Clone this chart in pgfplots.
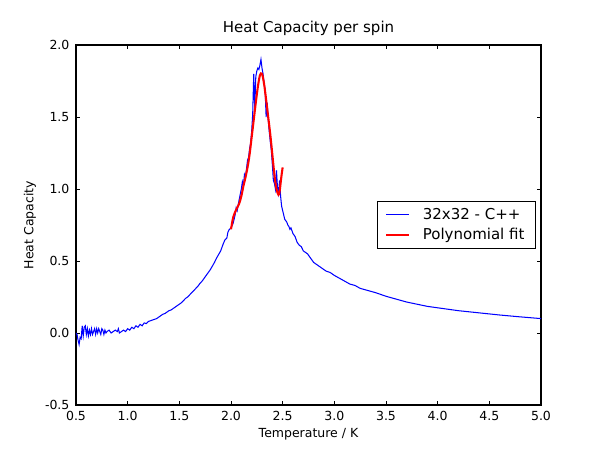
\documentclass[border=0pt]{standalone}
\usepackage{pgfplots}
\pgfplotsset{compat=1.18}
\usepackage{fontspec}
\setmainfont{DejaVu Sans}
\begin{document}
\begin{tikzpicture}
\begin{axis}[
  at={(0,0)}, anchor=south west,
  scale only axis,
  width=348.75pt, height=270pt,
  xmin=0.5, xmax=5.0, ymin=-0.5, ymax=2.0,
  xtick={0.5,1.0,...,5.0},
  ytick={-0.5,0,0.5,1.0,1.5,2.0},
  tick align=inside,
  major tick length=3.1pt,
  axis line style={line width=0.78pt},
  every tick/.style={black, line width=0.6pt},
  /pgf/number format/assume math mode=true,
  /pgf/number format/.cd, fixed, fixed zerofill, precision=1, /pgfplots/.cd,
  tick label style={font=\fontsize{9.375}{11}\selectfont},
  yticklabel style={xshift=-1.4pt},
  xticklabel style={yshift=-1pt},
  title={Heat Capacity per spin},
  title style={at={(axis description cs:0.5,1)}, anchor=base, yshift=3.2pt, font=\fontsize{11.25}{13}\selectfont},
  xlabel={Temperature / K},
  xlabel style={at={(axis description cs:0.5,-0.0806)}, anchor=center, font=\fontsize{9.375}{11}\selectfont},
  ylabel={Heat Capacity},
  ylabel style={at={(axis description cs:-0.0989,0.5)}, anchor=center, font=\fontsize{9.375}{11}\selectfont},
  legend style={at={(1,0.5)}, anchor=east, xshift=-4pt, draw=black, line width=0.78pt,
    font=\fontsize{11.25}{13.5}\selectfont, inner xsep=6pt, inner ysep=3pt, row sep=1pt,
    /tikz/every odd column/.append style={column sep=7.5pt}},
  legend cell align=left,
]
\addplot[color={rgb,1:red,0;green,0;blue,1}, line width=0.78pt] coordinates {
(0.50,0.00) (0.51,-0.01) (0.52,-0.05) (0.53,-0.08) (0.54,-0.03) (0.55,-0.04)
(0.56,0.05) (0.57,-0.02) (0.58,0.04) (0.59,0.05) (0.60,-0.01) (0.61,0.03)
(0.62,-0.02) (0.63,0.02) (0.64,-0.01) (0.65,0.03) (0.66,-0.01) (0.67,0.01)
(0.68,0.03) (0.69,-0.01) (0.70,0.03) (0.71,0.00) (0.72,0.03) (0.73,0.01)
(0.74,-0.01) (0.75,0.03) (0.76,0.02) (0.77,-0.01) (0.78,0.02) (0.79,0.00)
(0.80,0.01) (0.82,0.02) (0.84,0.00) (0.86,0.01) (0.88,0.02) (0.90,0.01)
(0.91,0.03) (0.92,0.00) (0.94,0.01) (0.96,0.02) (0.98,0.01) (1.00,0.03)
(1.02,0.02) (1.04,0.04) (1.06,0.03) (1.08,0.05) (1.10,0.04) (1.12,0.06)
(1.14,0.05) (1.16,0.07) (1.18,0.065) (1.20,0.08) (1.22,0.085) (1.24,0.09)
(1.26,0.095) (1.28,0.10) (1.30,0.11) (1.32,0.12) (1.34,0.13) (1.36,0.135)
(1.38,0.145) (1.40,0.155) (1.42,0.16) (1.44,0.17) (1.46,0.18) (1.48,0.19)
(1.50,0.20) (1.52,0.21) (1.54,0.225) (1.56,0.24) (1.58,0.25) (1.60,0.265)
(1.62,0.28) (1.64,0.295) (1.66,0.31) (1.68,0.325) (1.70,0.345) (1.72,0.36)
(1.74,0.38) (1.76,0.40) (1.78,0.42) (1.80,0.44) (1.82,0.465) (1.84,0.49)
(1.86,0.52) (1.88,0.545) (1.90,0.57) (1.92,0.61) (1.94,0.645) (1.96,0.66)
(1.97,0.70) (1.98,0.715) (2.00,0.73) (2.02,0.76) (2.04,0.82) (2.05,0.87)
(2.06,0.85) (2.08,0.93) (2.10,1.00) (2.11,1.05) (2.12,1.02) (2.13,1.10)
(2.14,1.08) (2.15,1.14) (2.16,1.20) (2.17,1.22) (2.18,1.28) (2.19,1.32)
(2.20,1.40) (2.21,1.52) (2.22,1.80) (2.23,1.56) (2.24,1.78) (2.25,1.82)
(2.26,1.84) (2.27,1.83) (2.28,1.86) (2.29,1.90) (2.30,1.84) (2.31,1.80)
(2.32,1.74) (2.33,1.69) (2.34,1.50) (2.35,1.60) (2.36,1.48) (2.37,1.40)
(2.38,1.33) (2.39,1.27) (2.40,1.17) (2.41,1.06) (2.42,1.04) (2.43,1.00)
(2.44,1.13) (2.45,1.01) (2.46,0.97) (2.47,1.06) (2.48,0.95) (2.49,0.88)
(2.50,0.85) (2.52,0.79) (2.54,0.77) (2.55,0.75) (2.56,0.74) (2.57,0.72)
(2.58,0.73) (2.60,0.69) (2.62,0.67) (2.64,0.63) (2.66,0.61) (2.68,0.60)
(2.70,0.57) (2.72,0.56) (2.74,0.55) (2.76,0.53) (2.78,0.51) (2.80,0.49)
(2.84,0.47) (2.88,0.45) (2.92,0.43) (2.96,0.42) (3.00,0.40) (3.05,0.38)
(3.10,0.36) (3.15,0.34) (3.20,0.33) (3.25,0.31) (3.30,0.30) (3.40,0.28)
(3.50,0.255) (3.60,0.235) (3.70,0.215) (3.80,0.20) (3.90,0.185) (4.00,0.175)
(4.20,0.155) (4.40,0.14) (4.60,0.125) (4.80,0.112) (5.00,0.10)
};
\addlegendentry{32x32 - C++}
\addplot[color={rgb,1:red,1;green,0;blue,0}, line width=1.56pt, smooth] coordinates {
(2.00,0.72) (2.02,0.80) (2.04,0.84) (2.06,0.87) (2.08,0.90) (2.10,0.95)
(2.12,1.02) (2.14,1.08) (2.16,1.15) (2.18,1.24) (2.20,1.36) (2.22,1.48)
(2.24,1.60) (2.26,1.71) (2.28,1.79) (2.30,1.80) (2.32,1.73) (2.34,1.62)
(2.36,1.50) (2.38,1.38) (2.40,1.24) (2.42,1.10) (2.44,1.00) (2.46,0.96)
(2.47,0.98) (2.48,1.04) (2.49,1.10) (2.50,1.15)
};
\addlegendentry{Polynomial fit}
\end{axis}
\path[use as bounding box] (-57pt,-33.75pt) rectangle (393pt,303.75pt);
\end{tikzpicture}
\end{document}
